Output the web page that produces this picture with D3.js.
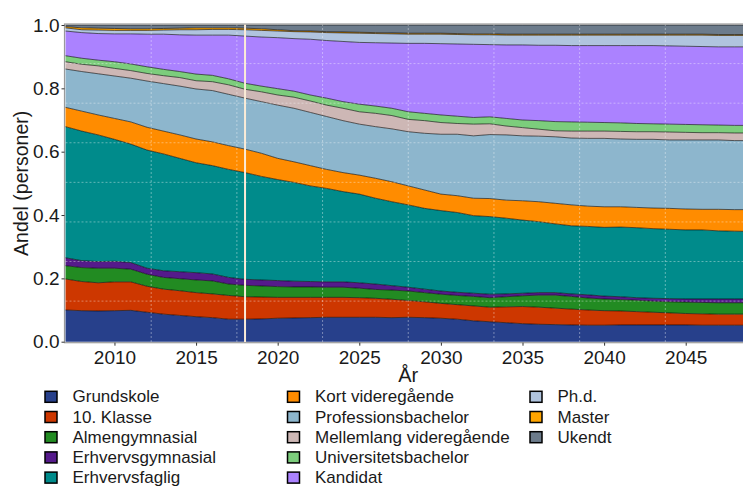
<!DOCTYPE html>
<html lang="da">
<head>
    <meta charset="UTF-8">
    <title>Andel (personer)</title>
    <script src="https://d3js.org/d3.v7.min.js"></script>
    <style type="text/css">
        body {
            margin: 0;
            background: white;
        }
        svg text {
            font-family: "Liberation Sans", Arial, sans-serif;
            fill: #1a1a1a;
        }
        .tick text {
            font-size: 19px;
        }
        .legend text {
            font-size: 17px;
        }
    </style>
</head>
<body>
<svg id="chart"></svg>

<script>
// Years on the x axis
var years = [2007, 2008, 2009, 2010, 2011, 2012, 2013, 2014, 2015, 2016,
             2017, 2018, 2019, 2020, 2021, 2022, 2023, 2024, 2025, 2026,
             2027, 2028, 2029, 2030, 2031, 2032, 2033, 2034, 2035, 2036,
             2037, 2038, 2039, 2040, 2041, 2042, 2043, 2044, 2045, 2046,
             2047, 2048, 2049];

// Education categories, bottom of the stack first
var categories = ["Grundskole", "10. Klasse", "Almengymnasial", "Erhvervsgymnasial",
                  "Erhvervsfaglig", "Kort videregående", "Professionsbachelor",
                  "Mellemlang videregående", "Universitetsbachelor", "Kandidat",
                  "Ph.d.", "Master", "Ukendt"];

var colors = ["#27408B", "#CD3700", "#228B22", "#551A8B", "#008B8B", "#FF8C00",
              "#8DB6CD", "#CDB7B5", "#7CCD7C", "#AB82FF", "#B0C4DE", "#FFA500", "#6C7B8B"];

// Share of persons per category, one value per year
var grundskole = [.100,.098,.097,.098,.099,.093,.087,.083,.079,.076,.071,.071,.072,.074,.075,.076,.077,.077,.077,.077,.076,.077,.076,.074,.071,.066,.063,.060,.057,.055,.054,.053,.052,.052,.053,.053,.053,.053,.053,.052,.052,.052,.052];
var klasse10 = [.098,.092,.089,.091,.090,.082,.079,.078,.076,.075,.075,.071,.069,.066,.065,.064,.063,.063,.062,.060,.058,.053,.050,.047,.046,.047,.046,.050,.054,.054,.052,.050,.048,.046,.044,.042,.040,.038,.036,.036,.035,.035,.035];
var almengym = [.042,.044,.046,.043,.040,.038,.037,.038,.040,.041,.036,.036,.035,.034,.033,.033,.032,.032,.030,.028,.029,.030,.029,.029,.029,.030,.030,.032,.034,.038,.041,.040,.038,.037,.036,.036,.035,.035,.036,.036,.036,.036,.036];
var erhvervsgym = [.025,.022,.021,.022,.021,.019,.021,.022,.023,.022,.021,.019,.019,.019,.018,.017,.017,.017,.017,.017,.014,.012,.011,.010,.010,.010,.011,.009,.008,.008,.008,.008,.010,.009,.009,.008,.009,.010,.010,.011,.012,.012,.012];
var erhvervsfaglig = [.414,.409,.400,.385,.374,.373,.369,.358,.347,.342,.341,.337,.327,.319,.312,.302,.295,.285,.280,.271,.265,.260,.255,.254,.252,.245,.245,.239,.231,.224,.217,.215,.216,.217,.220,.221,.220,.219,.218,.218,.215,.214,.213];
var kortVid = [.061,.063,.063,.066,.070,.072,.072,.074,.075,.075,.075,.074,.073,.067,.065,.064,.060,.060,.060,.063,.063,.060,.058,.052,.053,.055,.057,.057,.061,.063,.065,.066,.064,.065,.064,.064,.065,.066,.066,.065,.068,.068,.069];
var profBach = [.121,.125,.130,.134,.138,.146,.150,.154,.158,.162,.162,.161,.163,.168,.169,.168,.167,.164,.161,.163,.167,.171,.179,.189,.194,.197,.202,.206,.205,.207,.210,.211,.214,.216,.214,.215,.217,.216,.218,.219,.219,.218,.218];
var mellemlang = [.023,.023,.025,.024,.024,.024,.025,.027,.026,.028,.030,.028,.031,.032,.035,.036,.036,.039,.039,.042,.042,.039,.040,.037,.034,.037,.034,.028,.026,.022,.019,.022,.023,.023,.024,.024,.024,.025,.024,.023,.023,.024,.024];
var uniBach = [.019,.019,.018,.021,.021,.021,.020,.019,.021,.020,.019,.019,.018,.020,.019,.019,.022,.021,.024,.023,.023,.024,.023,.024,.023,.021,.022,.024,.024,.027,.029,.029,.028,.027,.027,.026,.025,.025,.025,.025,.024,.024,.024];
var kandidat = [.078,.081,.084,.088,.095,.103,.111,.116,.123,.127,.138,.149,.155,.161,.166,.176,.182,.190,.195,.200,.206,.216,.221,.225,.228,.231,.228,.232,.237,.238,.241,.241,.242,.243,.244,.246,.247,.247,.247,.247,.247,.248,.248];
var phd = [.010,.009,.011,.011,.011,.012,.013,.016,.017,.018,.018,.020,.021,.021,.022,.023,.025,.027,.029,.029,.029,.029,.029,.030,.030,.030,.031,.031,.031,.032,.032,.033,.033,.033,.033,.033,.033,.034,.035,.036,.036,.036,.036];
var master = [.004,.006,.006,.006,.005,.005,.005,.005,.006,.005,.005,.005,.005,.004,.003,.003,.003,.003,.003,.003,.003,.003,.003,.003,.003,.003,.003,.003,.003,.003,.003,.003,.003,.003,.003,.003,.003,.003,.003,.003,.003,.003,.003];
var ukendt = [.005,.009,.010,.011,.012,.012,.011,.010,.009,.009,.009,.010,.012,.015,.018,.019,.021,.022,.023,.024,.025,.026,.026,.026,.027,.028,.028,.029,.029,.029,.029,.029,.029,.029,.029,.029,.029,.029,.029,.029,.030,.030,.030];

var series = [grundskole, klasse10, almengym, erhvervsgym, erhvervsfaglig, kortVid,
              profBach, mellemlang, uniBach, kandidat, phd, master, ukendt];

var xTicks = [2010, 2015, 2020, 2025, 2030, 2035, 2040, 2045];
var yTicks = [0, 0.2, 0.4, 0.6, 0.8, 1.0];
var markerYear = 2018;

// Canvas
var svgWidth = 743;
var svgHeight = 486;
var pLeft = 65.5, pRight = 751, pTop = 25, pBottom = 341.7;

var svg = d3.select("#chart")
    .attr("width", svgWidth)
    .attr("height", svgHeight);

var xs = d3.scaleLinear().domain([years[0], years[years.length - 1]]).range([pLeft, pRight]);
var ys = d3.scaleLinear().domain([0, 1]).range([pBottom, pTop]);

// Build rows for d3.stack
var rows = years.map(function(yr, i) {
    var row = {year: yr};
    categories.forEach(function(c, j) { row[c] = series[j][i]; });
    return row;
});

var stacked = d3.stack().keys(categories)(rows);

var area = d3.area()
    .x(function(d) { return xs(d.data.year); })
    .y0(function(d) { return ys(d[0]); })
    .y1(function(d) { return ys(d[1]); });

var topLine = d3.line()
    .x(function(d) { return xs(d.data.year); })
    .y(function(d) { return ys(d[1]); });

var plot = svg.append("g");

plot.selectAll("path.layer")
    .data(stacked)
    .enter()
    .append("path")
    .attr("class", "layer")
    .attr("d", area)
    .attr("fill", function(d, i) { return colors[i]; });

plot.selectAll("path.edge")
    .data(stacked)
    .enter()
    .append("path")
    .attr("class", "edge")
    .attr("d", topLine)
    .attr("fill", "none")
    .attr("stroke", "black")
    .attr("stroke-width", 0.6);

// Grid (8 even divisions of the panel)
var gridX = [1, 2, 3, 4, 5, 6, 7].map(function(k) { return years[0] + k * (years[years.length - 1] - years[0]) / 8; });
var gridY = [1, 2, 3, 4, 5, 6, 7].map(function(k) { return k / 8; });

plot.selectAll("line.gx")
    .data(gridX)
    .enter()
    .append("line")
    .attr("x1", function(d) { return xs(d); })
    .attr("x2", function(d) { return xs(d); })
    .attr("y1", pTop - 1)
    .attr("y2", pBottom + 1)
    .attr("stroke", "rgba(255,255,255,0.55)")
    .attr("stroke-width", 0.7)
    .attr("stroke-dasharray", "2,2");

plot.selectAll("line.gy")
    .data(gridY)
    .enter()
    .append("line")
    .attr("x1", pLeft)
    .attr("x2", pRight)
    .attr("y1", function(d) { return ys(d) - 1; })
    .attr("y2", function(d) { return ys(d) - 1; })
    .attr("stroke", "rgba(255,255,255,0.55)")
    .attr("stroke-width", 0.7)
    .attr("stroke-dasharray", "2,2");

// Vertical marker at the last observed year
plot.append("line")
    .attr("x1", xs(markerYear))
    .attr("x2", xs(markerYear))
    .attr("y1", pTop - 1)
    .attr("y2", pBottom + 1)
    .attr("stroke", "#FAEBD7")
    .attr("stroke-width", 2);

// Panel border
svg.append("rect")
    .attr("x", pLeft - 1)
    .attr("y", pTop - 1)
    .attr("width", pRight - pLeft + 2)
    .attr("height", pBottom - pTop + 2)
    .attr("fill", "none")
    .attr("stroke", "#9a9a9a")
    .attr("stroke-width", 1.2);

// Axes
var xAxis = svg.append("g")
    .attr("transform", "translate(0," + (pBottom + 1) + ")")
    .call(d3.axisBottom(xs).tickValues(xTicks).tickFormat(d3.format("d")).tickSize(3).tickPadding(5));

var yAxis = svg.append("g")
    .attr("transform", "translate(" + (pLeft - 1) + ",0)")
    .call(d3.axisLeft(ys).tickValues(yTicks).tickFormat(d3.format(".1f")).tickSize(3).tickPadding(2));

[xAxis, yAxis].forEach(function(a) {
    a.select(".domain").remove();
    a.selectAll(".tick line").attr("stroke", "#333");
    a.selectAll(".tick text").attr("fill", "#1a1a1a");
});

// Axis titles
svg.append("text")
    .attr("x", (pLeft + pRight) / 2)
    .attr("y", 382)
    .attr("text-anchor", "middle")
    .style("font-size", "20px")
    .text("År");

svg.append("text")
    .attr("transform", "translate(28," + ((pTop + pBottom) / 2) + ") rotate(-90)")
    .attr("text-anchor", "middle")
    .style("font-size", "19.5px")
    .text("Andel (personer)");

// Legend: three columns of five rows
var colX = [45, 287.5, 530];
var legend = svg.append("g").attr("class", "legend");

var items = legend.selectAll("g")
    .data(categories)
    .enter()
    .append("g")
    .attr("transform", function(d, i) {
        return "translate(" + colX[Math.floor(i / 5)] + "," + (396.8 + (i % 5) * 20.2) + ")";
    });

items.append("rect")
    .attr("x", 0)
    .attr("y", -5.5)
    .attr("width", 12)
    .attr("height", 11)
    .attr("fill", function(d, i) { return colors[i]; })
    .attr("stroke", "black")
    .attr("stroke-width", 1.5);

items.append("text")
    .attr("x", 27.5)
    .attr("y", 5.5)
    .text(function(d) { return d; });
</script>
</body>
</html>
